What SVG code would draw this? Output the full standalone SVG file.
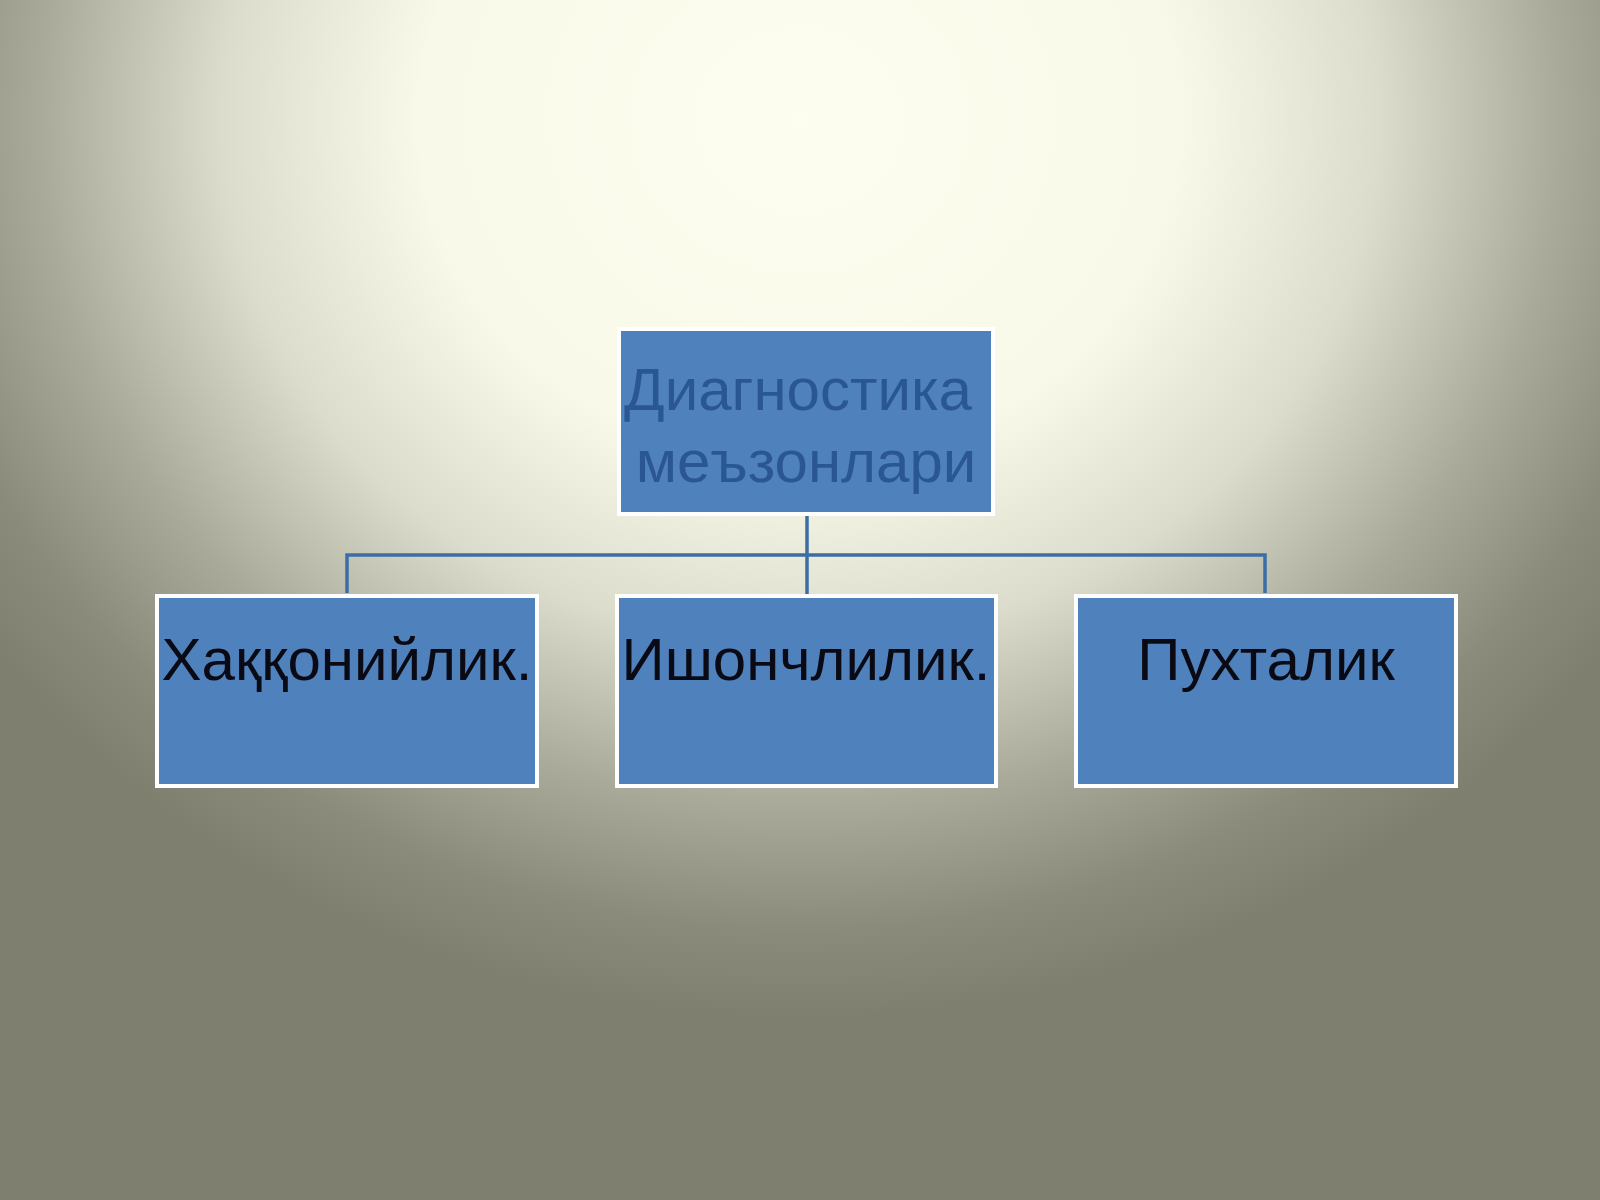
<svg xmlns="http://www.w3.org/2000/svg" width="1600" height="1200" viewBox="0 0 1600 1200">
<defs>
<radialGradient id="bg" gradientUnits="userSpaceOnUse" cx="800" cy="120" r="1000" gradientTransform="translate(800 120) scale(1 0.9) translate(-800 -120)">
<stop offset="0" stop-color="#fdfdf0"/>
<stop offset="0.38" stop-color="#f9f9e9"/>
<stop offset="0.58" stop-color="#dcdccc"/>
<stop offset="0.76" stop-color="#aaaa9a"/>
<stop offset="0.9" stop-color="#8b8b7b"/>
<stop offset="1" stop-color="#7f7f6f"/>
</radialGradient>
<style>
.box{fill:#4f81bd;stroke:#ffffff;stroke-width:4}
.conn{fill:none;stroke:#3c6ea6;stroke-width:3.5}
.t{font-family:"Liberation Sans",Arial,sans-serif;font-size:60px;text-anchor:middle}
.top{fill:#2a5793}
.child{fill:#0a0a14}
</style>
</defs>
<rect x="0" y="0" width="1600" height="1200" fill="url(#bg)"/>
<g id="connectors">
<path class="conn" d="M807 515 V595"/>
<path class="conn" d="M347 593 V555 H1265 V593"/>
</g>
<g id="root">
<rect class="box" x="619" y="329" width="374" height="185"/>
<text class="t top" x="798" y="410">Диагностика</text>
<text class="t top" x="806" y="482">меъзонлари</text>
</g>
<g id="n1">
<rect class="box" x="157" y="596" width="380" height="190"/>
<text class="t child" x="347" y="680">Хаққонийлик.</text>
</g>
<g id="n2">
<rect class="box" x="617" y="596" width="379" height="190"/>
<text class="t child" x="806" y="680">Ишончлилик.</text>
</g>
<g id="n3">
<rect class="box" x="1076" y="596" width="380" height="190"/>
<text class="t child" x="1266" y="680">Пухталик</text>
</g>
</svg>
